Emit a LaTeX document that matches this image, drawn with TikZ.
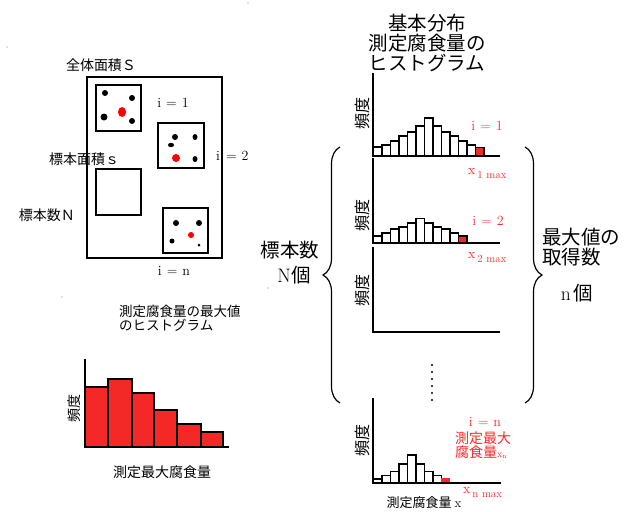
\documentclass[tikz,border=0pt]{standalone}
\usepackage{fontspec}
\newfontfamily\cjk{Noto Sans CJK JP}
\usetikzlibrary{decorations.pathreplacing}
\definecolor{myred}{RGB}{255,40,40}
\definecolor{barred}{RGB}{245,40,40}
\newcommand\myfs[2]{\fontsize{#1}{#2}\selectfont}
\begin{document}
\begin{tikzpicture}[x=1pt,y=-1pt,
  jp/.style={font=\cjk\myfs{14}{14}, inner sep=0pt},
  jpbig/.style={font=\cjk\myfs{19.5}{20}, inner sep=0pt},
  jpax/.style={font=\cjk\myfs{16}{16}, inner sep=0pt, rotate=90},
  lat/.style={font=\myfs{14}{14}, inner sep=0pt},
  redt/.style={text=myred},
  bar/.style={draw=black, line width=1.1pt, fill=white},
  redbar/.style={draw=black, line width=1.1pt, fill=barred},
  axis/.style={line width=1.2pt},
  box/.style={line width=1.4pt},
  bdot/.style={fill=black},
  rdot/.style={fill=red},
  brace/.style={line width=1.2pt, decorate, decoration={brace, amplitude=17pt}},
]
\useasboundingbox (0,0) rectangle (638,512);
\clip (0,0) rectangle (638,512);

% stray dots
\fill[gray] (248,3) circle (0.7);
\fill[gray] (7,47) circle (0.7);
\fill[gray] (62,297) circle (0.7);
\fill[gray] (268,288) circle (0.7);

% ---------- left: area with samples ----------
\draw[box] (87,77) rectangle (222,258);
\draw[box] (96,85) rectangle (141,131);
\draw[box] (158,123) rectangle (204,168);
\draw[box] (96,169) rectangle (141,215);
\draw[box] (163,208) rectangle (208,253);
% box 1 dots
\fill[bdot] (105,93) circle (3);
\fill[bdot] (132,98) circle (3);
\fill[bdot] (104,117) circle (3.5);
\fill[bdot] (132,121) circle (3);
\fill[rdot] (122,112) ellipse (4 and 5);
% box 2 dots
\fill[bdot] (175,137) circle (3);
\fill[bdot] (195,137) ellipse (2.5 and 3);
\fill[bdot] (171,145) ellipse (3 and 2.2);
\fill[bdot] (195,159) ellipse (2.5 and 3);
\fill[rdot] (176,158) circle (4);
% box 4 dots
\fill[bdot] (176,223) circle (3);
\fill[bdot] (199,223) circle (3);
\fill[bdot] (172,241) circle (2.5);
\fill[bdot] (199,245) circle (1.5);
\fill[rdot] (191,235) circle (3);

\node[jp] (S) at (101,65) {全体面積Ｓ};
\node[lat] (l1) at (173,103) {i\hspace{5pt}=\hspace{5pt}1};
\node[lat, anchor=west] (l2) at (216,156) {i\hspace{6pt}=\hspace{5pt}2};
\node[lat] (ln) at (174,271) {i\hspace{5pt}=\hspace{5pt}n};
\node[jp] (s) at (84,159) {標本面積ｓ};
\node[jp] (N) at (47,215) {標本数Ｎ};

% ---------- left histogram of maxima ----------
\node[jp, align=left, anchor=north west, font=\cjk\myfs{13.5}{12}] (mt) at (119,305) {測定腐食量の最大値\\のヒストグラム};
\draw[redbar] (85,447) rectangle (108,387);
\draw[redbar] (108,447) rectangle (132,379);
\draw[redbar] (132,447) rectangle (154,393);
\draw[redbar] (154,447) rectangle (177,410);
\draw[redbar] (177,447) rectangle (201,424);
\draw[redbar] (201,447) rectangle (223,432);
\draw[axis] (85,359) -- (85,447) -- (229,447);
\node[jpax, font=\cjk\myfs{14}{14}] (fl) at (74,408) {頻度};
\node[jp] (mx) at (162,472) {測定最大腐食量};

% ---------- right side ----------
\node[jpbig, align=center] (title) at (427,43) {基本分布\\測定腐食量の\\ヒストグラム};

% hist 1
\foreach \h [count=\k from 0] in {9,11,15,20,24,30,38,30,24,20,15,11}
  \draw[bar] (373.5+8.5*\k,156) rectangle ++(8.5,-\h);
\draw[redbar] (373.5+8.5*12,156) rectangle ++(8.5,-8.5);
\draw[axis] (373,73) -- (373,156) -- (500,156);
\node[jpax] (f1) at (362,113) {頻度};
\node[lat, redt] (r1) at (487,126) {i\hspace{5pt}=\hspace{5pt}1};
\node[lat, redt, anchor=west] (x1) at (468,174) {x\hspace{2pt}\raisebox{-4pt}{\myfs{11}{11}1 max}};

% hist 2
\foreach \h [count=\k from 0] in {7,10,14,16,20,24.5,20,16,14,10}
  \draw[bar] (373.5+8.5*\k,243) rectangle ++(8.5,-\h);
\draw[redbar] (373.5+8.5*10,243) rectangle ++(8.5,-7);
\draw[axis] (373,158) -- (373,243) -- (500,243);
\node[jpax] (f2) at (362,215) {頻度};
\node[lat, redt] (r2) at (488,221) {i\hspace{5pt}=\hspace{5pt}2};
\node[lat, redt, anchor=west] (x2) at (468,258) {x\hspace{2pt}\raisebox{-4pt}{\myfs{11}{11}2 max}};

% hist 3
\draw[axis] (373,247) -- (373,332) -- (500,332);
\node[jpax] (f3) at (362,290) {頻度};

% dots
\foreach \k in {0,...,5}
  \fill (432,365+7*\k) circle (1.2);

% hist 4
\foreach \h [count=\k from 0] in {4,7.5,11.5,19,28,19,11.5,7.5}
  \draw[bar] (373.5+8.5*\k,483) rectangle ++(8.5,-\h);
\draw[line width=1.1pt, draw=myred, fill=barred] (373.5+8.5*8,483) rectangle ++(8,-4);
\draw[axis] (373,398) -- (373,483) -- (501,483);
\node[jpax] (f4) at (362,440) {頻度};
\node[lat, redt] (rn) at (485,422) {i\hspace{5pt}=\hspace{5pt}n};
\node[jp, redt, align=left, anchor=west] (rm) at (455,445) {測定最大\\腐食量{\rmfamily\myfs{10}{10}x\textsubscript{n}}};
\node[lat, redt, anchor=west] (xn) at (463,493) {x\hspace{2pt}\raisebox{-4pt}{\myfs{11}{11}n max}};
\node[jp, font=\cjk\myfs{13}{13}] (bx) at (424,503) {測定腐食量 {\rmfamily x}};

% braces
\coordinate (lbB) at (340,403);
\coordinate (lbT) at (340,147);
\coordinate (rbT) at (525,147);
\coordinate (rbB) at (525,403);
\draw[brace] (lbB) -- (lbT);
\draw[brace] (rbT) -- (rbB);

\node[jpbig] (Nn) at (290,250) {標本数};
\node[jpbig] (Nk) at (294,275) {{\rmfamily N}個};
\node[jpbig, align=left, anchor=west, font=\cjk\myfs{19.5}{20}] (mx2) at (542,247) {最大値の\\取得数};
\node[jpbig] (nk) at (577,293) {{\rmfamily n}\hspace{3pt}個};
\end{tikzpicture}
\end{document}
